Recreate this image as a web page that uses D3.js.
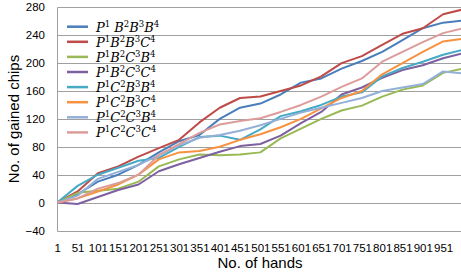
<!DOCTYPE html>
<html>
<head>
<meta charset="utf-8">
<script src="https://cdn.jsdelivr.net/npm/d3@7"></script>
<style>
  body { margin: 0; background: #fff; }
  svg { display: block; }
</style>
</head>
<body>
<div id="chart"></div>
<script>
let hands = [1, 51, 101, 151, 201, 251, 301, 351, 401, 451, 501, 551, 601, 651, 701, 751, 801, 851, 901, 951, 1000];

let s_BBB = [0, 12, 30, 40, 54, 72, 88, 97, 120, 136, 142, 155, 172, 178, 192, 203, 216, 233, 250, 258, 261];
let s_BBC = [0, 16, 42, 52, 66, 78, 90, 115, 136, 150, 152, 160, 168, 181, 200, 210, 226, 242, 250, 270, 277];
let s_BCB = [0, 14, 17, 20, 30, 52, 62, 69, 68, 69, 72, 92, 106, 120, 132, 139, 152, 162, 168, 186, 192];
let s_BCC = [0, -2, 8, 18, 26, 45, 55, 64, 73, 81, 84, 96, 114, 130, 155, 165, 179, 190, 197, 207, 214];
let s_CBB = [0, 24, 40, 50, 60, 64, 80, 94, 96, 90, 105, 124, 131, 140, 152, 158, 181, 193, 202, 212, 219];
let s_CBC = [0, 6, 16, 26, 40, 62, 72, 74, 80, 90, 98, 108, 120, 135, 150, 160, 184, 200, 216, 231, 235];
let s_CCB = [0, 10, 34, 44, 54, 68, 82, 93, 97, 103, 111, 120, 129, 136, 143, 150, 160, 165, 170, 188, 185];
let s_CCC = [0, 6, 20, 28, 40, 68, 84, 100, 112, 117, 121, 130, 140, 152, 166, 178, 202, 216, 230, 243, 250];

// legend names: [letter, superscript] pairs
let names = [
    [["P", "1"], [" B", "2"], ["B", "3"], ["B", "4"]],
    [["P", "1"], ["B", "2"], ["B", "3"], ["C", "4"]],
    [["P", "1"], ["B", "2"], ["C", "3"], ["B", "4"]],
    [["P", "1"], ["B", "2"], ["C", "3"], ["C", "4"]],
    [["P", "1"], ["C", "2"], ["B", "3"], ["B", "4"]],
    [["P", "1"], ["C", "2"], ["B", "3"], ["C", "4"]],
    [["P", "1"], ["C", "2"], ["C", "3"], ["B", "4"]],
    [["P", "1"], ["C", "2"], ["C", "3"], ["C", "4"]]
];
let colors = ["#4a7ebb", "#be4b48", "#98b954", "#7d60a0", "#46aac5", "#f69240", "#94b0d8", "#dc9c9a"];

let yTicks = [-40, 0, 40, 80, 120, 160, 200, 240, 280];
let xTicks = d3.range(1, 1000, 50);

let width = 461;
let height = 275;

let series = [s_BBB, s_BBC, s_BCB, s_BCC, s_CBB, s_CBC, s_CCB, s_CCC];

let svg = d3.select("#chart")
    .append("svg")
    .attr("width", width)
    .attr("height", height);

let x = d3.scaleLinear().domain([1, 1000]).range([57.3, 463]);
let y = d3.scaleLinear().domain([-40, 280]).range([230.5, 7.3]);

// gridlines
svg.append("g")
    .selectAll("line")
    .data(yTicks)
    .enter()
    .append("line")
    .attr("x1", 57.5)
    .attr("x2", width)
    .attr("y1", d => Math.round(y(d)) + 0.5)
    .attr("y2", d => Math.round(y(d)) + 0.5)
    .attr("stroke", "#a0a0a0")
    .attr("stroke-width", 1);

// y axis line
svg.append("line")
    .attr("x1", 57.5).attr("x2", 57.5)
    .attr("y1", Math.round(y(280)) + 0.5)
    .attr("y2", Math.round(y(-40)) + 0.5)
    .attr("stroke", "#a0a0a0");

let yAxis = svg.append("g")
    .attr("transform", "translate(57.5,0)")
    .call(d3.axisLeft(y).tickValues(yTicks).tickSize(0).tickPadding(12.5));
yAxis.select(".domain").remove();

let xAxis = svg.append("g")
    .attr("transform", "translate(0," + y(-40) + ")")
    .call(d3.axisBottom(x).tickValues(xTicks).tickSize(0).tickPadding(13));
xAxis.select(".domain").remove();

svg.selectAll(".tick text")
    .attr("fill", "#000")
    .style("font-family", "Liberation Sans, Arial, sans-serif")
    .style("font-size", "11.5px");

// series lines
let line = d3.line()
    .x((d, i) => x(hands[i]))
    .y(d => y(d));

svg.append("g")
    .selectAll("path")
    .data(series)
    .enter()
    .append("path")
    .attr("d", d => line(d))
    .attr("fill", "none")
    .attr("stroke", (d, i) => colors[i])
    .attr("stroke-width", 2)
    .attr("stroke-linejoin", "round");

// legend
let legend = svg.append("g");
names.forEach(function(name, i) {
    let ly = 26.7 + i * 15.1;
    legend.append("line")
        .attr("x1", 67).attr("x2", 88)
        .attr("y1", ly).attr("y2", ly)
        .attr("stroke", colors[i])
        .attr("stroke-width", 2.5);
    let t = legend.append("text")
        .attr("x", 96)
        .attr("y", ly + 5)
        .style("font-family", "DejaVu Serif, serif")
        .style("font-size", "13px")
        .attr("fill", "#000");
    name.forEach(function(part, j) {
        // letter back on the baseline, then a raised digit
        t.append("tspan")
            .style("font-style", "italic")
            .attr("dy", j === 0 ? 0 : 5)
            .text(part[0]);
        t.append("tspan")
            .style("font-size", "8.5px")
            .attr("dy", -5)
            .text(part[1]);
    });
});

// axis titles
svg.append("text")
    .attr("x", 260)
    .attr("y", 268)
    .attr("text-anchor", "middle")
    .style("font-family", "Liberation Sans, Arial, sans-serif")
    .style("font-size", "15px")
    .text("No. of hands");

svg.append("text")
    .attr("transform", "translate(18.5,119) rotate(-90)")
    .attr("text-anchor", "middle")
    .style("font-family", "Liberation Sans, Arial, sans-serif")
    .style("font-size", "15px")
    .text("No. of gained chips");
</script>
</body>
</html>
